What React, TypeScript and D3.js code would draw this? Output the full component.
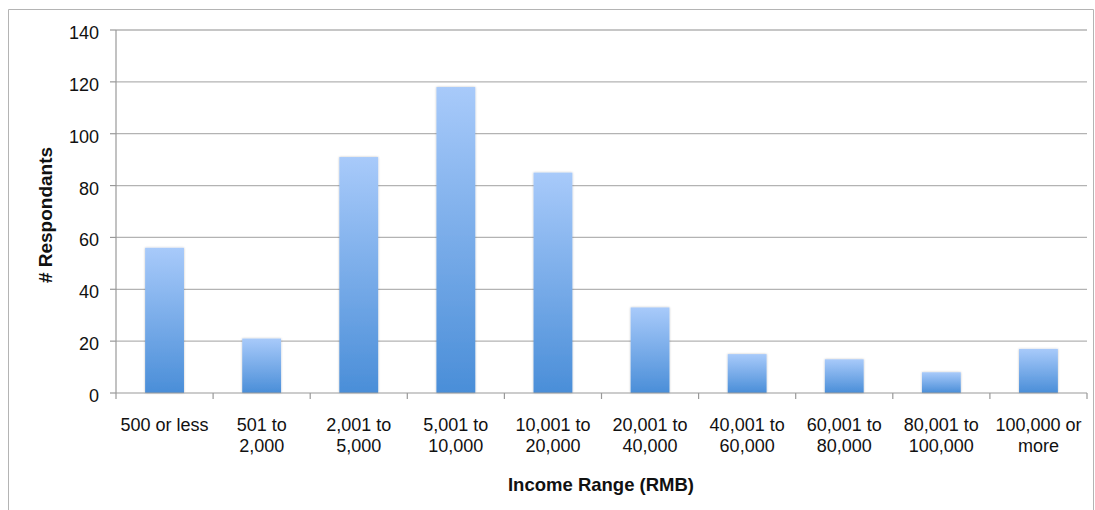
import React from "react";
import * as d3 from "d3";

const categories: string[][] = [
  ["500 or less"],
  ["501 to", "2,000"],
  ["2,001 to", "5,000"],
  ["5,001 to", "10,000"],
  ["10,001 to", "20,000"],
  ["20,001 to", "40,000"],
  ["40,001 to", "60,000"],
  ["60,001 to", "80,000"],
  ["80,001 to", "100,000"],
  ["100,000 or", "more"],
];
const respondents: number[] = [56, 21, 91, 118, 85, 33, 15, 13, 8, 17];
const yTicks: number[] = [0, 20, 40, 60, 80, 100, 120, 140];

const W = 1095;
const H = 510;
const left = 116;
const right = 1087;
const top = 30;
const bottom = 393;
const FONT = "'Liberation Sans', Arial, sans-serif";

export default function App() {
  const x = d3
    .scaleBand<number>()
    .domain(d3.range(categories.length))
    .range([left, right])
    .paddingInner(0)
    .paddingOuter(0);
  const y = d3.scaleLinear().domain([0, 140]).range([bottom, top]);
  const bw = x.bandwidth() * 0.4;
  return (
    <svg
      width={W}
      height={H}
      style={{ position: "absolute", left: 0, top: 0 }}
      fontFamily={FONT}
    >
      <defs>
        <linearGradient id="barGrad" x1="0" y1="0" x2="0" y2="1">
          <stop offset="0%" stopColor="#a8cafa" />
          <stop offset="100%" stopColor="#4a8ed8" />
        </linearGradient>
        <filter id="sh" x="-20%" y="-10%" width="140%" height="120%">
          <feGaussianBlur in="SourceAlpha" stdDeviation="1" />
          <feOffset dx="0" dy="0" result="b" />
          <feComponentTransfer>
            <feFuncA type="linear" slope="0.25" />
          </feComponentTransfer>
          <feMerge>
            <feMergeNode />
            <feMergeNode in="SourceGraphic" />
          </feMerge>
        </filter>
      </defs>
      <rect x={0} y={0} width={W} height={H} fill="#fff" />
      <path d={`M8.5,${H} L8.5,9.5 L${W - 1.5},9.5 L${W - 1.5},${H}`} fill="none" stroke="#b4b4b4" strokeWidth={1} />
      {yTicks.map((t) => (
        <g key={t}>
          {t > 0 && (
            <line x1={left} x2={right} y1={y(t)} y2={y(t)} stroke="#b3b3b3" strokeWidth={1.3} />
          )}
          <line x1={left - 6} x2={left} y1={y(t)} y2={y(t)} stroke="#999" strokeWidth={1.2} />
          <text x={99} y={y(t) + 9} textAnchor="end" fontSize={18} fill="#111">
            {t}
          </text>
        </g>
      ))}
      {respondents.map((v, i) => (
        <rect
          key={i}
          x={(x(i) as number) + x.bandwidth() / 2 - bw / 2}
          y={y(v)}
          width={bw}
          height={y(0) - y(v)}
          fill="url(#barGrad)"
          filter="url(#sh)"
        />
      ))}
      <line x1={left} x2={left} y1={top} y2={bottom} stroke="#999" strokeWidth={1.2} />
      <line x1={left} x2={right} y1={bottom} y2={bottom} stroke="#999" strokeWidth={1.2} />
      {d3.range(categories.length + 1).map((i) => {
        const xx = left + i * x.bandwidth();
        return <line key={i} x1={xx} x2={xx} y1={bottom} y2={bottom + 6} stroke="#999" strokeWidth={1.2} />;
      })}
      {categories.map((lines, i) => (
        <text
          key={i}
          x={(x(i) as number) + x.bandwidth() / 2}
          y={431}
          textAnchor="middle"
          fontSize={18}
          fill="#111"
        >
          {lines.map((l, j) => (
            <tspan key={j} x={(x(i) as number) + x.bandwidth() / 2} dy={j === 0 ? 0 : 21}>
              {l}
            </tspan>
          ))}
        </text>
      ))}
      <text x={601} y={491} textAnchor="middle" fontSize={18.5} fontWeight="bold" fill="#111">
        Income Range (RMB)
      </text>
      <text
        transform={`translate(52,215) rotate(-90)`}
        textAnchor="middle"
        fontSize={19}
        fontWeight="bold"
        fill="#111"
      >
        # Respondants
      </text>
    </svg>
  );
}
